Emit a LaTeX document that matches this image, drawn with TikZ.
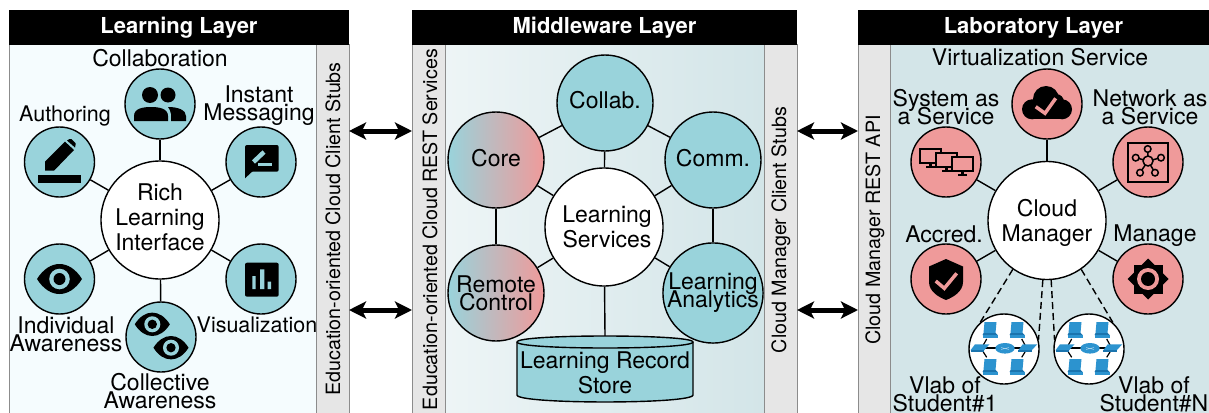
\documentclass[tikz,border=0pt]{standalone}
\usepackage{fontspec}
\setmainfont{TeX Gyre Heros}
\usepackage{xcolor}
\definecolor{colorTeal}{HTML}{99D3DB}
\definecolor{colorRed}{HTML}{EF9A9A}
\definecolor{colorStub}{HTML}{E6E6E6}
\definecolor{colorEdge}{HTML}{8C8C8C}
\definecolor{colorLab}{HTML}{D3E5E8}
\definecolor{colorNet}{HTML}{2C93CF}
\definecolor{colorNetDark}{HTML}{1A74AE}
\usetikzlibrary{arrows.meta}
\newcommand{\tightfont}{\fontsize{23}{18}\selectfont\lineskiplimit -30pt\relax}
\tikzset{
  header/.style={fill=black, text=white, inner sep=0, outer sep=0, minimum height=35, font=\fontsize{22}{24}\selectfont\bfseries},
  stub/.style={draw=colorEdge, line width=1pt, fill=colorStub, inner sep=0, outer sep=0, minimum width=32.5, minimum height=375},
  stubtext/.style={rotate=90, inner sep=0, font=\fontsize{19.7}{22}\selectfont},
  panel/.style={inner sep=0, outer sep=0, minimum height=375},
  hub/.style={circle, draw, line width=1.4pt, fill=white, inner sep=0, minimum size=118, align=center, font=\fontsize{23}{25}\selectfont},
  sat/.style={circle, draw, line width=1.4pt, inner sep=0, minimum size=70},
  bigsat/.style={circle, draw, line width=1.4pt, inner sep=0, minimum size=96, align=center, font=\tightfont},
  lbl/.style={inner sep=0, align=center, font=\tightfont},
  smalllbl/.style={inner sep=0, align=center, font=\fontsize{21.5}{18}\selectfont},
  link/.style={line width=1.4pt},
  dashlink/.style={line width=1.4pt, dash pattern=on 7pt off 4pt},
  dblarrow/.style={line width=5pt, {Stealth[length=17pt,width=17pt,inset=4pt]}-{Stealth[length=17pt,width=17pt,inset=4pt]}},
  peopleicon/.pic={
    \fill (-10,-9) circle (8) (8,-9) circle (7.5);
    \fill (-26,17) -- (-26,12) .. controls (-26,4) and (-16,3) .. (-9,3) .. controls (-2,3) and (8,4) .. (8,12) -- (8,17) -- cycle;
    \fill (11,17) -- (11,10) .. controls (11,7) and (9,5) .. (8,3) .. controls (18,3) and (26,6) .. (26,12) -- (26,17) -- cycle;
  },
  pencilicon/.pic={
    \fill (-21.5,13) rectangle (21,21);
    \fill (-14.5,8.7) -- (-14.5,-0.3) -- (5.5,-20.3) -- (14.5,-12) -- (-5.5,8.7) -- cycle;
    \fill (7.5,-21.5) -- (10,-23) -- (12,-23) -- (16,-19) -- (16,-17) -- (15.5,-14.5) -- cycle;
  },
  messageicon/.pic={
    \fill[rounded corners=2pt] (-16,-17) rectangle (17.7,9.7);
    \fill (-16,5) -- (-16,16.3) -- (-6,7) -- cycle;
    \draw[colorTeal, line width=4.5pt] (-7.5,0) -- (3,-10);
    \draw[colorTeal, line width=2.5pt] (-2.7,2.5) -- (10.7,2.5);
  },
  charticon/.pic={
    \fill[rounded corners=2pt] (-16,-16.3) rectangle (17.7,17.7);
    \fill[colorTeal] (-8.7,-3) rectangle (-5.3,10) (-1,-9.7) rectangle (3.3,10) (6.7,2.7) rectangle (10,10);
  },
  eyeicon/.pic={
    \fill (-22.5,0) .. controls (-10,-20) and (10,-20) .. (22.5,0) .. controls (10,20) and (-10,20) .. (-22.5,0) -- cycle;
    \fill[colorTeal] (0,0) circle (10.3);
    \fill (0,0) circle (6);
  },
  cloudicon/.pic={
    \fill (-1,-5) circle (13);
    \fill (-15,5.3) circle (10);
    \fill (15,5.3) circle (10);
    \fill (9,-2) circle (8);
    \fill (-15,5.3) rectangle (15,15.3);
    \draw[colorRed, line width=3.5pt] (-11.3,2.7) -- (-2,9.3) -- (8.7,-5.7);
  },
  shieldicon/.pic={
    \fill (0,-20) -- (-17,-12.5) -- (-17,3) .. controls (-17,12) and (-8,18) .. (0,21) .. controls (8,18) and (17,12) .. (17,3) -- (17,-12.5) -- cycle;
    \draw[colorRed, line width=3.5pt] (-10.3,2) -- (-1.7,9.3) -- (10.7,-5.7);
  },
  monitorsicon/.pic={
    \foreach \mx/\my in {-15.7/-5.7, 0.3/-1.7, 16/1.7} {
      \draw[line width=2pt, fill=colorRed] (\mx-10.5,\my-7) rectangle (\mx+10.5,\my+7);
      \fill (\mx-1.5,\my+7) rectangle (\mx+1.5,\my+10);
      \fill (\mx-4.5,\my+10) rectangle (\mx+4.5,\my+12);
    }
  },
  networkicon/.pic={
    \draw[line width=2pt] (-20,-19.5) rectangle (20,19.5);
    \foreach \nx/\ny in {-0.3/-13, -12.3/-4.3, 13/-4.3, -8/10.7, 7/10.7} {
      \draw[line width=1.5pt] (0,-1) -- (\nx,\ny);
      \draw[line width=1.5pt, fill=colorRed] (\nx,\ny) circle (3.3);
    }
    \draw[line width=1.5pt, fill=colorRed] (0,-1) circle (5);
  },
  gearicon/.pic={
    \fill (-14.5,-14.5) rectangle (14.5,14.5);
    \fill (0,-20.5) -- (20.5,0) -- (0,20.5) -- (-20.5,0) -- cycle;
    \fill[colorRed] (0,0) circle (11);
    \fill (0,0) circle (7);
  },
  laptopicon/.pic={
    \fill[colorNet] (-5.5,-8) -- (6.5,-8) -- (5.5,3) -- (-6.5,3) -- cycle;
    \fill[colorNetDark] (-6.5,3) -- (5.5,3) -- (7.5,5) -- (-7.5,5) -- cycle;
    \fill[colorNet] (-7.5,5) rectangle (7.5,8);
  },
  switchicon/.pic={
    \fill[colorNet] (-5,-4) -- (9.5,-4) -- (4,2) -- (-9.5,2) -- cycle;
    \fill[colorNetDark] (-9.5,2) rectangle (4,4);
  },
  vlabicon/.pic={
    \draw[line width=1.2pt] (-17.3,-10) -- (-20.7,-4) (17.7,-10) -- (21,-4) (-20.7,3) -- (-17.3,8.3) (21,3) -- (17.7,8.3);
    \foreach \lx/\ly in {-14/-19, 13/-19, -14/18, 13/18} { \pic at (\lx,\ly) {laptopicon}; }
    \draw[line width=1.8pt] (-24,-0.7) -- (23.7,-0.7);
    \pic at (-24,-0.7) {switchicon};
    \pic at (23.7,-0.7) {switchicon};
    \fill[colorNet] (1,-0.7) ellipse (9.7 and 5.3);
    \draw[colorNet!40, line width=.4pt] (-3,-1.5) -- (5,0.5) (-3,0.5) -- (5,-1.5);
  },
}
\begin{document}
\begin{tikzpicture}[x=1pt, y=-1pt]
\useasboundingbox (0,0) rectangle (1209,412);
% panels
\node[panel, draw=colorEdge, line width=1pt, fill=cyan!4, minimum width=308] (learnpanel) at (163,232.5) {};
\node[stub] (learnstub) at (333,232.5) {};
\node[header, minimum width=340] (learnhead) at (179,27.5) {Learning Layer};
\node[panel, left color=colorLab!40, right color=colorLab, minimum width=319] (midpanel) at (604.5,232.5) {};
\node[stub] (midstubl) at (429,232.5) {};
\node[stub] (midstubr) at (781,232.5) {};
\node[header, minimum width=385] (midhead) at (604.5,27.5) {Middleware Layer};
\node[panel, fill=colorLab, minimum width=319] (labpanel) at (1050,232.5) {};
\node[stub] (labstub) at (874.5,232.5) {};
\node[header, minimum width=351] (labhead) at (1033.5,27.5) {Laboratory Layer};
\node[stubtext] (learnapi) at (333,229) {Education-oriented Cloud Client Stubs};
\node[stubtext] (midapil) at (430,229.5) {Education-oriented Cloud REST Services};
\node[stubtext] (midapir) at (781,230) {Cloud Manager Client Stubs};
\node[stubtext] (labapi) at (875,230) {Cloud Manager REST API};
% arrows between layers
\foreach \ay/\an in {131/a, 310/b} {
  \coordinate (learn\an) at (349,\ay);
  \coordinate (midl\an) at (412,\ay);
  \coordinate (midr\an) at (797,\ay);
  \coordinate (lab\an) at (858,\ay);
  \draw[dblarrow] (learn\an) -- (midl\an);
  \draw[dblarrow] (midr\an) -- (lab\an);
}
% learning layer
\node[hub, text depth=5pt] (rich) at (160,220) {Rich\\Learning\\Interface};
\foreach \sname/\sx/\sy in {collab/160/104, author/59.5/162, instant/261/162, individual/59.5/279, visual/261/279, collective/161/337} {
  \node[sat, fill=colorTeal] (\sname) at (\sx,\sy) {};
  \draw[link] (rich) -- (\sname);
}
\pic at (collab) {peopleicon};
\pic at (author) {pencilicon};
\pic at (instant) {messageicon};
\pic at (individual) {eyeicon};
\pic at (visual) {charticon};
\pic[scale=.78] at (152.3,324.3) {eyeicon};
\pic[scale=.78] at (171,347.7) {eyeicon};
\node[lbl] (collablbl) at (160,58) {Collaboration};
\node[smalllbl] (authorlbl) at (65,116) {Authoring};
\node[lbl] (instantlbl) at (259,106) {Instant\\Messaging};
\node[lbl] (individuallbl) at (66,334) {Individual\\Awareness};
\node[smalllbl] (visuallbl) at (257,325) {Visualization};
\node[lbl] (collectivelbl) at (160,391) {Collective\\Awareness};
% middleware layer
\node[hub, text depth=0pt] (services) at (604,227) {\kern6pt Learning\\\kern6pt Services};
\node[bigsat, fill=colorTeal, text depth=6pt] (mcollab) at (605,103) {Collab.};
\node[bigsat, left color=colorTeal, right color=colorRed, text depth=4pt] (mcore) at (496,160) {Core};
\node[bigsat, fill=colorTeal, text depth=4pt] (mcomm) at (713,160) {Comm.};
\node[bigsat, left color=colorTeal, right color=colorRed] (mremote) at (496,293) {Remote\\Control};
\node[bigsat, fill=colorTeal] (manalytics) at (713,293) {Learning\\Analytics};
\draw[line width=1.4pt, fill=colorTeal] (517,342) .. controls (517,334) and (693,334) .. (693,342) -- (693,395) .. controls (693,404.3) and (517,404.3) .. (517,395) -- cycle;
\draw[line width=1.4pt] (517,342) .. controls (517,350) and (693,350) .. (693,342);
\node[inner sep=0, minimum width=176, minimum height=66] (store) at (605,369) {};
\node[hub, draw=none, fill=none, minimum size=0] (storelbl) at (605,373) {Learning Record\\Store};
\foreach \sname in {mcollab, mcore, mcomm, mremote, manalytics} {
  \draw[link] (services) -- (\sname);
}
\draw[link] (mcore) -- (mcollab);
\draw[link] (mcollab) -- (mcomm);
\draw[link] (mcore) -- (mremote);
\draw[link] (mcomm) -- (manalytics);
\draw[link] (services) -- (store.north);
% laboratory layer
\node[hub, text depth=0pt] (cloud) at (1047,220.5) {Cloud\\Manager};
\foreach \sname/\sx/\sy in {virt/1047/104, system/946/162, network/1148/162, accred/946/279, manage/1148/279} {
  \node[sat, fill=colorRed] (\sname) at (\sx,\sy) {};
  \draw[link] (cloud) -- (\sname);
}
\pic at (virt) {cloudicon};
\pic at (system) {monitorsicon};
\pic at (network) {networkicon};
\pic at (accred) {shieldicon};
\pic at (manage) {gearicon};
\node[sat, fill=white] (vlabone) at (1004,349) {};
\node[sat, fill=white] (vlabn) at (1089,349) {};
\pic at (vlabone) {vlabicon};
\pic at (vlabn) {vlabicon};
\draw[dashlink] (cloud.235) -- (vlabone.132);
\draw[dashlink] (cloud.266) -- (vlabone.15);
\draw[dashlink] (cloud.274) -- (vlabn.165);
\draw[dashlink] (cloud.305) -- (vlabn.48);
\node[lbl] (virtlbl) at (1040,57) {Virtualization Service};
\node[lbl] (systemlbl) at (946,107) {System as\\a Service};
\node[lbl] (networklbl) at (1150,107) {Network as\\a Service};
\node[lbl] (accredlbl) at (944,234) {Accred.};
\node[lbl] (managelbl) at (1155,236) {Manage};
\node[lbl] (vlabonelbl) at (945,394) {Vlab of\\Student\#1};
\node[lbl] (vlabnlbl) at (1154,394) {Vlab of\\Student\#N};
\end{tikzpicture}
\end{document}
